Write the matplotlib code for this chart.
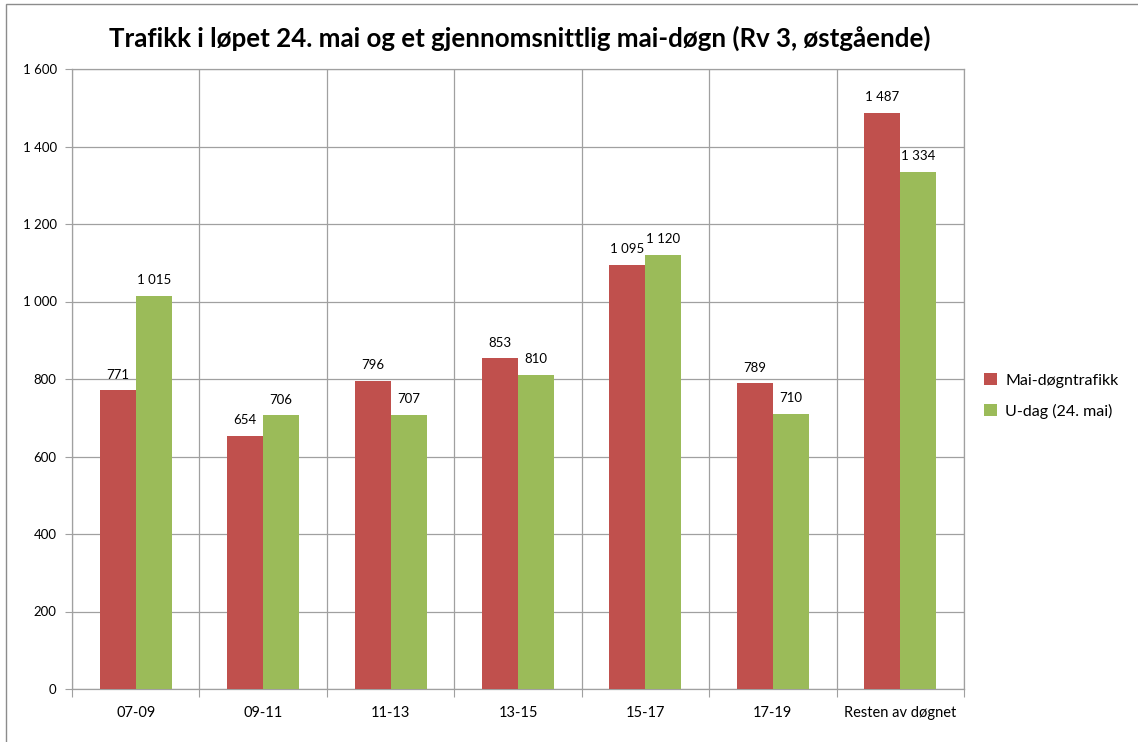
import matplotlib
matplotlib.use("Agg")
import matplotlib.pyplot as plt
import numpy as np
from matplotlib.patches import Rectangle

plt.rcParams['font.family'] = ['Lato', 'DejaVu Sans']

categories = ["07-09", "09-11", "11-13", "13-15", "15-17", "17-19", "Resten av døgnet"]
mai = [771, 654, 796, 853, 1095, 789, 1487]
udag = [1015, 706, 707, 810, 1120, 710, 1334]
series_names = ["Mai-døgntrafikk", "U-dag (24. mai)"]
title = "Trafikk i løpet 24. mai og et gjennomsnittlig mai-døgn (Rv 3, østgående)"

red = "#C0504D"
green = "#9BBB59"
grid = "#A0A0A0"

def fmt(v):
    return f"{int(v):,}".replace(",", " ")

fig = plt.figure(figsize=(11.38, 7.42), dpi=100)
fig.patches.append(Rectangle((6/1138, -0.01), 1.1, (742-4)/742 + 0.01, transform=fig.transFigure,
                             fill=False, edgecolor="#8C8C8C", linewidth=1.0))
ax = fig.add_axes([72/1138, 53/742, (964-72)/1138, (689-69)/742])

x = np.arange(len(categories))
w = 0.283
b1 = ax.bar(x - w/2, mai, w, color=red, label=series_names[0], zorder=3)
b2 = ax.bar(x + w/2, udag, w, color=green, label=series_names[1], zorder=3)

for bars, vals in ((b1, mai), (b2, udag)):
    for r, v in zip(bars, vals):
        ax.text(r.get_x() + r.get_width()/2, v + 25, fmt(v), ha="center", va="bottom",
                fontsize=9.5, color="#000000")

ax.set_xlim(-0.5, len(categories) - 0.5)
ax.set_ylim(0, 1600)
ax.set_yticks(np.arange(0, 1601, 200))
ax.set_yticklabels([fmt(v) for v in np.arange(0, 1601, 200)], fontsize=9.5)
ax.set_xticks(np.arange(-0.5, len(categories) - 0.4, 1.0), minor=False)
ax.set_xticklabels([])
ax.set_xticks(x, minor=True)
ax.set_xticklabels(categories, minor=True, fontsize=10.5)
ax.tick_params(axis="x", which="minor", length=0, pad=12)
ax.tick_params(axis="x", which="major", length=6, color=grid, direction="out")
ax.tick_params(axis="y", length=5, color=grid, direction="out", pad=6)

ax.grid(True, which="major", axis="both", color=grid, linewidth=0.9, zorder=0)
for s in ax.spines.values():
    s.set_color(grid)
    s.set_linewidth(0.9)

fig.text(520/1138, 1 - 38/742, title, ha="center", va="center", fontsize=18.6, fontweight="bold")

fig.legend(handles=[b1, b2], labels=series_names, loc="center left",
           bbox_to_anchor=(970/1138, 1 - 396/742), frameon=False, fontsize=11.5,
           handlelength=0.8, handleheight=0.8, labelspacing=1.0, handletextpad=0.5)

fig.savefig("out.png", dpi=100)
